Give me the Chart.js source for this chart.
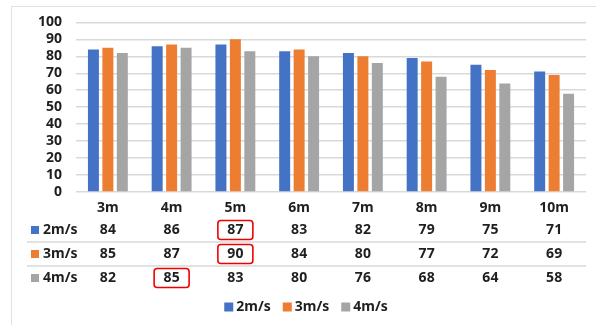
<!DOCTYPE html>
<html>
<head>
<meta charset="utf-8">
<script src="https://cdn.jsdelivr.net/npm/chart.js@4/dist/chart.umd.min.js"></script>
<style>
  html, body { margin: 0; padding: 0; background: #fff; }
  #wrap { width: 596px; height: 325px; }
</style>
</head>
<body>
<div id="wrap"><canvas id="c" width="596" height="325"></canvas></div>
<script>
// Distance categories and wind-speed series
const categories = ['3m', '4m', '5m', '6m', '7m', '8m', '9m', '10m'];
const seriesNames = ['2m/s', '3m/s', '4m/s'];
const speed2 = [84, 86, 87, 83, 82, 79, 75, 71];
const speed3 = [85, 87, 90, 84, 80, 77, 72, 69];
const speed4 = [82, 85, 83, 80, 76, 68, 64, 58];
const seriesColors = ['#4472C4', '#ED7D31', '#A5A5A5'];
const yMin = 0, yMax = 100, yStep = 10;
// Table cells outlined in red
const highlighted = [
  { category: '5m', series: '2m/s' },
  { category: '5m', series: '3m/s' },
  { category: '4m', series: '4m/s' }
];

const seriesValues = [speed2, speed3, speed4];
const FONT = "'Noto Sans', sans-serif";
const TEXT = '#1f1f1f';
const GRID = '#d9d9d9';

function roundRect(ctx, x, y, w, h, r) {
  ctx.beginPath();
  ctx.moveTo(x + r, y);
  ctx.lineTo(x + w - r, y);
  ctx.arcTo(x + w, y, x + w, y + r, r);
  ctx.lineTo(x + w, y + h - r);
  ctx.arcTo(x + w, y + h, x + w - r, y + h, r);
  ctx.lineTo(x + r, y + h);
  ctx.arcTo(x, y + h, x, y + h - r, r);
  ctx.lineTo(x, y + r);
  ctx.arcTo(x, y, x + r, y, r);
  ctx.closePath();
}

// Light frame around the chart
const framePlugin = {
  id: 'frame',
  beforeDraw(chart) {
    const ctx = chart.ctx;
    ctx.save();
    ctx.strokeStyle = '#e2e2e2';
    ctx.lineWidth = 1;
    ctx.beginPath();
    ctx.moveTo(11.5, 325);
    ctx.lineTo(11.5, 6.5);
    ctx.lineTo(596, 6.5);
    ctx.stroke();
    ctx.restore();
  }
};

// Data table under the axis plus the legend row
const tablePlugin = {
  id: 'dataTable',
  afterDraw(chart) {
    const ctx = chart.ctx;
    const xs = chart.scales.x;
    const area = chart.chartArea;
    const rowY = [area.bottom + 38, area.bottom + 62, area.bottom + 86];
    ctx.save();
    ctx.font = `bold 14px ${FONT}`;
    ctx.textBaseline = 'middle';

    // row separators
    ctx.strokeStyle = GRID;
    ctx.lineWidth = 1.5;
    for (let r = 0; r < rowY.length - 1; r++) {
      const y = (rowY[r] + rowY[r + 1]) / 2;
      ctx.beginPath();
      ctx.moveTo(27, y);
      ctx.lineTo(area.right, y);
      ctx.stroke();
    }

    seriesNames.forEach((name, s) => {
      const y = rowY[s];
      ctx.fillStyle = seriesColors[s];
      ctx.fillRect(31, y - 4, 8, 8);
      ctx.fillStyle = TEXT;
      ctx.textAlign = 'left';
      ctx.fillText(name, 43, y);
      ctx.textAlign = 'center';
      seriesValues[s].forEach((v, i) => {
        ctx.fillText(String(v), xs.getPixelForValue(i), y);
      });
    });

    // red outlines
    ctx.strokeStyle = '#f00000';
    ctx.lineWidth = 1.6;
    highlighted.forEach(h => {
      const i = categories.indexOf(h.category);
      const s = seriesNames.indexOf(h.series);
      const cx = xs.getPixelForValue(i);
      const cy = rowY[s];
      roundRect(ctx, cx - 17.5, cy - 9.5, 35, 19, 3);
      ctx.stroke();
    });

    // legend
    const ly = 307;
    const box = 9, gap = 3, spacing = 12;
    const widths = seriesNames.map(n => box + gap + ctx.measureText(n).width);
    const total = widths.reduce((a, b) => a + b, 0) + spacing * (widths.length - 1);
    let lx = 306 - total / 2;
    ctx.textAlign = 'left';
    seriesNames.forEach((n, s) => {
      ctx.fillStyle = seriesColors[s];
      ctx.fillRect(lx, ly - box / 2, box, box);
      ctx.fillStyle = TEXT;
      ctx.fillText(n, lx + box + gap, ly);
      lx += widths[s] + spacing;
    });
    ctx.restore();
  }
};

new Chart(document.getElementById('c'), {
  type: 'bar',
  data: {
    labels: categories,
    datasets: seriesNames.map((n, s) => ({
      label: n,
      data: seriesValues[s],
      backgroundColor: seriesColors[s],
      barPercentage: 0.76,
      categoryPercentage: 0.68
    }))
  },
  options: {
    responsive: false,
    animation: false,
    layout: { padding: { top: 21, right: 10, bottom: 0, left: 0 } },
    plugins: { legend: { display: false }, tooltip: { enabled: false } },
    scales: {
      x: {
        grid: { display: false },
        border: { display: false },
        ticks: { color: TEXT, font: { family: FONT, size: 14, weight: 'bold' }, padding: 0 },
        afterFit(scale) { scale.height = 133; }
      },
      y: {
        min: yMin, max: yMax,
        grid: { color: GRID, lineWidth: 1.5, drawTicks: false },
        border: { display: false },
        ticks: { stepSize: yStep, autoSkip: false, color: TEXT, font: { family: FONT, size: 14, weight: 'bold' }, padding: 14 },
        afterFit(scale) { scale.width = 76; }
      }
    }
  },
  plugins: [framePlugin, tablePlugin]
});
</script>
</body>
</html>
